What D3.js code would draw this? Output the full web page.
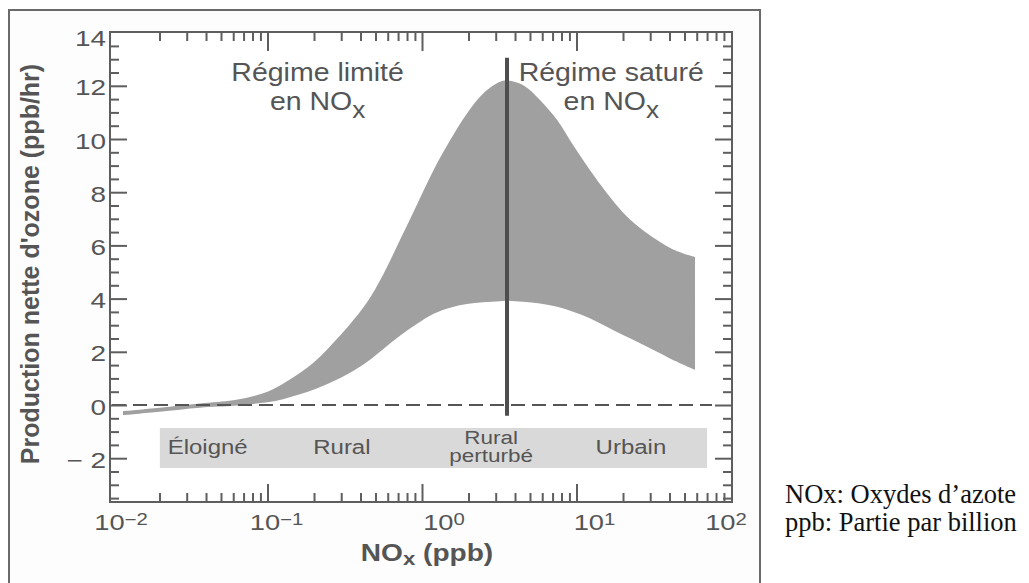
<!DOCTYPE html>
<html><head><meta charset="utf-8">
<script src="https://cdn.jsdelivr.net/npm/d3@7"></script>
<style>
body{margin:0;background:#fff}
svg{display:block}
</style>
</head><body>
<svg id="c" width="1029" height="583"></svg>
<script>
// ---------- data ----------
const nox   = [0.0116, 0.02, 0.0366, 0.06, 0.077, 0.1, 0.126, 0.162, 0.21, 0.265, 0.34, 0.44, 0.56, 0.72, 0.93, 1.18, 1.52, 1.95, 2.48, 3.2, 3.55, 4.5, 5.8, 7.5, 9.5, 12.2, 15.7, 20, 25.8, 33.2, 42.2, 58.5];
const upper = [-0.23, -0.1, 0.06, 0.18, 0.3, 0.5, 0.8, 1.2, 1.72, 2.32, 3.02, 3.85, 4.9, 6.2, 7.55, 8.8, 9.95, 10.95, 11.7, 12.15, 12.2, 12.03, 11.47, 10.71, 9.77, 8.83, 7.97, 7.24, 6.65, 6.2, 5.85, 5.56];
const lower = [-0.38, -0.25, -0.1, -0.03, 0.03, 0.1, 0.22, 0.4, 0.63, 0.88, 1.2, 1.62, 2.1, 2.6, 3.05, 3.42, 3.66, 3.8, 3.86, 3.9, 3.92, 3.88, 3.82, 3.69, 3.51, 3.26, 2.94, 2.63, 2.32, 2.0, 1.69, 1.32];

const regimeBoundary = 3.55;          // NOx (ppb) where the regimes split
const regimeLineRange = [-0.4, 13.05]; // ppb/hr extent of the vertical line

const xTickValues   = [0.01, 0.1, 1, 10, 100];
const xTickExponent = ["−2", "−1", "0", "1", "2"];
const yTickValues   = [14, 12, 10, 8, 6, 4, 2, 0, -2];
const yTickLabels   = ["14", "12", "10", "8", "6", "4", "2", "0", "− 2"];

const envNames  = [["Éloigné"], ["Rural"], ["Rural", "perturbé"], ["Urbain"]];
const envCentre = [0.041, 0.303, 2.8, 22.5];
const envBandNox = [0.0201, 70];
const envBandVal = [-0.865, -2.37];

const regimeTitles = [["Régime limité", "en NO", "x"], ["Régime saturé", "en NO", "x"]];
const regimeTitleNox = [0.211, 16.8];

const notes = ["NOx: Oxydes d’azote", "ppb: Partie par billion"];

// ---------- layout ----------
const svg = d3.select("#c");
const L = 110, R = 732, T = 32, B = 502;
const x = d3.scaleLog().domain([0.01, 100]).range([113, 731]);
const y = d3.scaleLinear().domain([0, 14]).range([405, 32.6]);
const ink = "#555", axisInk = "#5e5e5e";
const SANS = "'Liberation Sans', Arial, Helvetica, sans-serif";

// horizontally stretched text (the reference glyphs are wide)
function stext(px, py, sx, size, anchor, weight) {
  return svg.append("text")
    .attr("transform", `translate(${px},${py}) scale(${sx},1)`)
    .attr("text-anchor", anchor || "middle")
    .style("font-family", SANS)
    .style("font-size", size + "px")
    .style("font-weight", weight || "normal")
    .attr("fill", ink);
}

// outer frame
svg.append("rect").attr("x", 9).attr("y", 10).attr("width", 751).attr("height", 620)
  .attr("fill", "#fdfdfd").attr("stroke", "#6a6a6a").attr("stroke-width", 2);

// plot background
svg.append("rect").attr("x", L).attr("y", T).attr("width", R - L).attr("height", B - T)
  .attr("fill", "#fff");

// environment band
svg.append("rect")
  .attr("x", x(envBandNox[0])).attr("width", x(envBandNox[1]) - x(envBandNox[0]))
  .attr("y", y(envBandVal[0])).attr("height", y(envBandVal[1]) - y(envBandVal[0]))
  .attr("fill", "#d9d9d9");

envNames.forEach((lines, i) => {
  if (lines.length === 1) {
    stext(x(envCentre[i]), 454, 1.23, 19.5).text(lines[0]);
  } else {
    stext(x(envCentre[i]), 444, 1.25, 18).text(lines[0]);
    stext(x(envCentre[i]), 462, 1.25, 18).text(lines[1]);
  }
});

// production band
const pts = nox.map((v, i) => ({n: v, hi: upper[i], lo: lower[i]}));
const area = d3.area().x(d => x(d.n)).y0(d => y(d.lo)).y1(d => y(d.hi))
  .curve(d3.curveCatmullRom.alpha(0.5));
svg.append("path").datum(pts).attr("d", area).attr("fill", "#a0a0a0");

// zero dashed line
svg.append("line").attr("x1", L + 2).attr("x2", 712).attr("y1", y(0)).attr("y2", y(0))
  .attr("stroke", ink).attr("stroke-width", 2).attr("stroke-dasharray", "14,7");

// regime boundary
svg.append("line").attr("x1", x(regimeBoundary)).attr("x2", x(regimeBoundary))
  .attr("y1", y(regimeLineRange[1])).attr("y2", y(regimeLineRange[0]))
  .attr("stroke", "#4e4e4e").attr("stroke-width", 4);

// regime titles
regimeTitles.forEach((tl, i) => {
  const cx = x(regimeTitleNox[i]);
  stext(cx, 81, 1.14, 25).text(tl[0]);
  const t = stext(cx, 110, 1.14, 25);
  t.append("tspan").text(tl[1]);
  t.append("tspan").style("font-size", "23px").attr("dy", 8).text(tl[2]);
});

// ---------- axes (ticks inward on all four sides) ----------
const allX = x.ticks().filter(v => v > 0.0101 && v < 99);
const isMajor = v => Math.abs(Math.log10(v) - Math.round(Math.log10(v))) < 1e-6;
const xMaj = allX.filter(isMajor), xMin = allX.filter(v => !isMajor(v));
const yAll = d3.range(-3.5, 14, 0.5);
const yMaj = yAll.filter(v => v % 2 === 0), yMin = yAll.filter(v => v % 2 !== 0);

function drawAxis(axisFn, scale, vals, size, tr) {
  const g = svg.append("g").attr("transform", tr)
    .call(axisFn(scale).tickValues(vals).tickSize(size).tickFormat(""));
  g.select(".domain").remove();
  g.selectAll(".tick line").attr("stroke", axisInk).attr("stroke-width", 2);
}
drawAxis(d3.axisBottom, x, xMaj, -18, `translate(0,${B})`);
drawAxis(d3.axisBottom, x, xMin, -9, `translate(0,${B})`);
drawAxis(d3.axisTop, x, xMaj, -19, `translate(0,${T})`);
drawAxis(d3.axisTop, x, xMin, -9, `translate(0,${T})`);
drawAxis(d3.axisLeft, y, yMaj, -17, `translate(${L},0)`);
drawAxis(d3.axisLeft, y, yMin, -9, `translate(${L},0)`);
drawAxis(d3.axisRight, y, yMaj, -17, `translate(${R},0)`);
drawAxis(d3.axisRight, y, yMin, -9, `translate(${R},0)`);

// plot frame
svg.append("rect").attr("x", L).attr("y", T).attr("width", R - L).attr("height", B - T)
  .attr("fill", "none").attr("stroke", axisInk).attr("stroke-width", 2);

// x tick labels
const xLabelNudge = [8, 9, 22, 18, -5];
xTickValues.forEach((v, i) => {
  const t = stext(x(v) + xLabelNudge[i], 530, 1.27, 21.5);
  t.append("tspan").text("10");
  t.append("tspan").style("font-size", "16px").attr("dy", -5).text(xTickExponent[i]);
});

// y tick labels
yTickValues.forEach((v, i) => {
  stext(106, y(v) + (v === 14 ? 6 : 2) + 7.5, 1.3, 21.5, "end").text(yTickLabels[i]);
});

// axis titles
svg.append("text").attr("transform", "translate(39,264) rotate(-90)")
  .attr("text-anchor", "middle").style("font-family", SANS).style("font-size", "25px")
  .style("font-weight", "bold").attr("fill", ink).text("Production nette d'ozone (ppb/hr)");

const xt = stext(427, 561, 1.17, 24, "middle", "bold");
xt.append("tspan").text("NO");
xt.append("tspan").style("font-size", "19px").attr("dy", 4).text("x");
xt.append("tspan").attr("dy", -4).text(" (ppb)");

// side notes
notes.forEach((s, i) => {
  svg.append("text").attr("x", 785).attr("y", 503 + i * 28)
    .style("font-family", "'Liberation Serif','Times New Roman',serif")
    .style("font-size", "26.5px").attr("fill", "#111").text(s);
});
</script>
</body></html>
